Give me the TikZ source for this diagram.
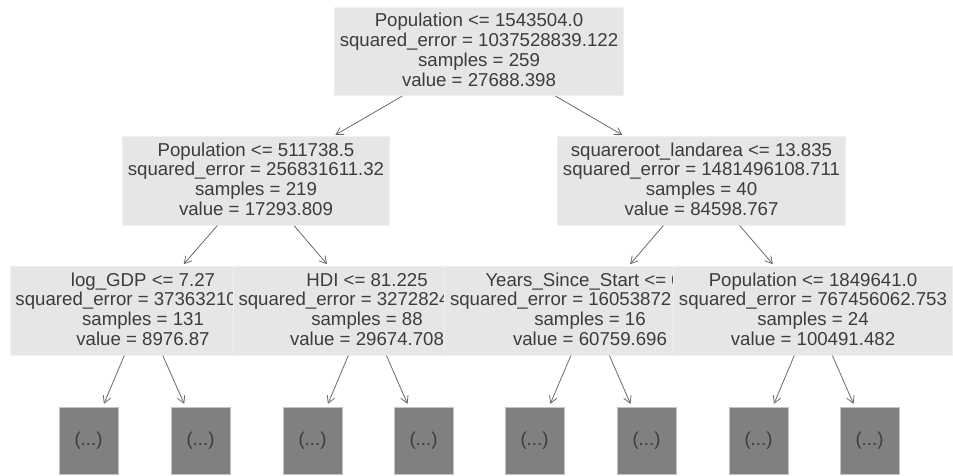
\documentclass[tikz,border=0pt]{standalone}
\usepackage{fontspec}
\setmainfont{Liberation Sans}
\usetikzlibrary{arrows.meta}
\definecolor{boxfill}{HTML}{E6E6E6}
\definecolor{boxedge}{HTML}{F0F0F0}
\definecolor{leaffill}{HTML}{808080}
\definecolor{leafedge}{HTML}{C4C4C4}
\definecolor{txt}{HTML}{3C3C3C}
\definecolor{arr}{HTML}{6A6A6A}
\newcommand{\nd}[4]{#1\vphantom{l}\\#2\\#3\\#4\vphantom{g}}
\tikzset{
  tnode/.style={rectangle, fill=boxfill, draw=boxedge, line width=0.6pt,
    inner xsep=5.5pt, inner ysep=0pt, minimum height=88.5pt, align=center,
    text=txt, font=\fontsize{18.65}{19.8}\selectfont},
  leafbox/.style={rectangle, fill=leaffill, draw=leafedge, line width=0.8pt,
    minimum width=59pt, minimum height=67pt, inner sep=0pt, text=txt,
    font=\fontsize{18.65}{19.8}\selectfont},
  edge/.style={draw=arr, line width=0.8pt, -{Straight Barb[length=7pt,width=8pt]},
    shorten >=3pt}
}
\begin{document}
\begin{tikzpicture}[x=1pt,y=-1pt]
\useasboundingbox (0,0) rectangle (953,475);
% root
\node[tnode] (r) at (479,51.5) {\nd{Population <= 1543504.0}{squared\_error = 1037528839.122}{samples = 259}{value = 27688.398}};
% level 2
\node[tnode] (a) at (256,181) {\nd{Population <= 511738.5}{squared\_error = 256831611.32}{samples = 219}{value = 17293.809}};
\node[tnode] (b) at (701.5,181) {\nd{squareroot\_landarea <= 13.835}{squared\_error = 1481496108.711}{samples = 40}{value = 84598.767}};
% level 3 (drawn in order; each later box covers the overflow of the previous one)
\node[tnode] (c1) at (143,311) {\nd{log\_GDP <= 7.27}{\makebox[255pt][l]{squared\_error = 37363210}}{samples = 131}{value = 8976.87}};
\node[tnode] (c2) at (367,311) {\nd{HDI <= 81.225}{\makebox[257pt][l]{squared\_error = 3272824}}{samples = 88}{value = 29674.708}};
\node[tnode] (c3) at (590,311) {\nd{\makebox[209pt][l]{Years\_Since\_Start <= 0}}{\makebox[280pt][l]{squared\_error = 16053872}}{samples = 16}{value = 60759.696}};
\node[tnode] (c4) at (813,311) {\nd{Population <= 1849641.0}{squared\_error = 767456062.753}{samples = 24}{value = 100491.482}};
% leaves
\node[leafbox] (l1) at (88.5,440.5) {(...)};
\node[leafbox] (l2) at (200.5,440.5) {(...)};
\node[leafbox] (l3) at (312.5,440.5) {(...)};
\node[leafbox] (l4) at (423.5,440.5) {(...)};
\node[leafbox] (l5) at (534.5,440.5) {(...)};
\node[leafbox] (l6) at (646.5,440.5) {(...)};
\node[leafbox] (l7) at (758.5,440.5) {(...)};
\node[leafbox] (l8) at (869.5,440.5) {(...)};
% edges
\draw[edge] (r) -- (a);
\draw[edge] (r) -- (b);
\draw[edge] (a) -- (c1);
\draw[edge] (a) -- (c2);
\draw[edge] (b) -- (c3);
\draw[edge] (b) -- (c4);
\draw[edge] (c1) -- (l1);
\draw[edge] (c1) -- (l2);
\draw[edge] (c2) -- (l3);
\draw[edge] (c2) -- (l4);
\draw[edge] (c3) -- (l5);
\draw[edge] (c3) -- (l6);
\draw[edge] (c4) -- (l7);
\draw[edge] (c4) -- (l8);
\end{tikzpicture}
\end{document}
